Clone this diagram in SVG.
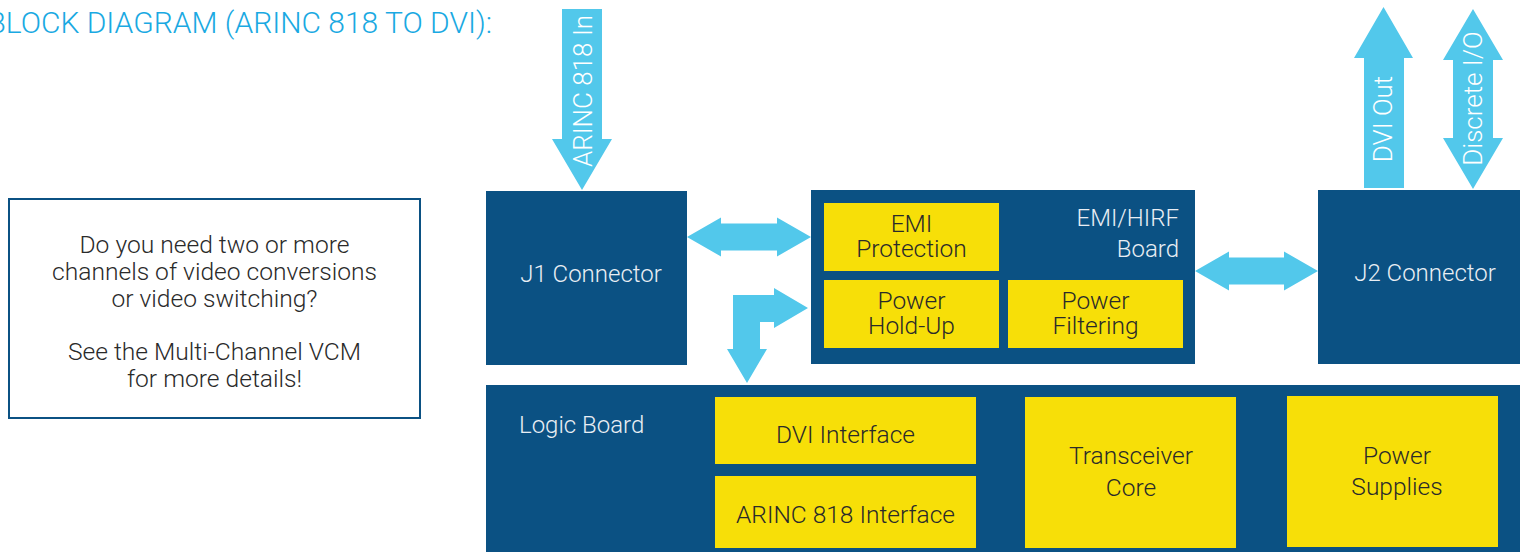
<svg xmlns="http://www.w3.org/2000/svg" width="1523" height="552" viewBox="0 0 1523 552">
<style>
  text { font-family: Roboto, "Liberation Sans", sans-serif; font-weight: 300; }
  .blue { fill: #0b5183; }
  .yel { fill: #f7df08; }
  .arr { fill: #52c8eb; }
  .tb { fill: #e9eef4; font-size: 24px; }
  .ty { fill: #2a2a2a; font-size: 24.5px; text-anchor: middle; }
  .ta { fill: #ffffff; font-size: 26px; text-anchor: middle; }
  .info { fill: #2a2a2a; font-size: 24.6px; text-anchor: middle; }
</style>
<rect width="1523" height="552" fill="#ffffff"/>
<text x="492" y="33" font-size="30" fill="#1aa9e2" text-anchor="end">BLOCK DIAGRAM (ARINC 818 TO DVI):</text>

<g id="info">
  <rect x="9" y="199" width="411" height="219" fill="#ffffff" stroke="#0b5183" stroke-width="2"/>
  <text class="info" x="214.5" y="253">Do you need two or more</text>
  <text class="info" x="214.5" y="280">channels of video conversions</text>
  <text class="info" x="214.5" y="307">or video switching?</text>
  <text class="info" x="214.5" y="360">See the Multi-Channel VCM</text>
  <text class="info" x="214.5" y="387">for more details!</text>
</g>

<g id="j1">
  <rect class="blue" x="486" y="191" width="201" height="174"/>
  <text class="tb" x="591" y="282" text-anchor="middle">J1 Connector</text>
</g>

<g id="emi-board">
  <rect class="blue" x="811" y="190" width="384" height="174"/>
  <text class="tb" x="1179" y="226" text-anchor="end">EMI/HIRF</text>
  <text class="tb" x="1179" y="257" text-anchor="end">Board</text>
</g>
<g id="emi-protection">
  <rect class="yel" x="824" y="203" width="175" height="68"/>
  <text class="ty" x="911.5" y="231.5">EMI</text>
  <text class="ty" x="911.5" y="257">Protection</text>
</g>
<g id="power-holdup">
  <rect class="yel" x="824" y="280" width="175" height="68"/>
  <text class="ty" x="911.5" y="308.5">Power</text>
  <text class="ty" x="911.5" y="334">Hold-Up</text>
</g>
<g id="power-filtering">
  <rect class="yel" x="1008" y="280" width="175" height="68"/>
  <text class="ty" x="1095.5" y="308.5">Power</text>
  <text class="ty" x="1095.5" y="334">Filtering</text>
</g>

<g id="j2">
  <rect class="blue" x="1318" y="190" width="202" height="174"/>
  <text class="tb" x="1425" y="281" text-anchor="middle">J2 Connector</text>
</g>

<g id="logic-board">
  <rect class="blue" x="486" y="385" width="1034" height="167"/>
  <text class="tb" x="519" y="433" font-size="25.5">Logic Board</text>
</g>
<g id="dvi-interface">
  <rect class="yel" x="715" y="397" width="261" height="67"/>
  <text class="ty" x="845.5" y="443">DVI Interface</text>
</g>
<g id="arinc-interface">
  <rect class="yel" x="715" y="476" width="261" height="72"/>
  <text class="ty" x="845.5" y="523">ARINC 818 Interface</text>
</g>
<g id="transceiver-core">
  <rect class="yel" x="1025" y="397" width="211" height="151"/>
  <text class="ty" x="1131" y="464">Transceiver</text>
  <text class="ty" x="1131" y="496">Core</text>
</g>
<g id="power-supplies">
  <rect class="yel" x="1287" y="396" width="211" height="151"/>
  <text class="ty" x="1397" y="464">Power</text>
  <text class="ty" x="1397" y="495">Supplies</text>
</g>

<g id="connectors">
  <path class="arr" d="M562,9 H602 V139 H612 L582,190 L552,139 H562 Z"/>
  <path class="arr" d="M1364,188 V58 H1354 L1383.5,7 L1413,58 H1404 V188 Z"/>
  <path class="arr" d="M1473,9 L1503,60 H1493 V138 H1503 L1473,189 L1443,138 H1453 V60 H1443 Z"/>
  <path class="arr" d="M687,237 L721,217.5 V223.5 H777 V217.5 L811,237 L777,256.5 V250.5 H721 V256.5 Z"/>
  <path class="arr" d="M1195,271 L1229,251.5 V257.5 H1284 V251.5 L1318,271 L1284,290.5 V284.5 H1229 V290.5 Z"/>
  <path class="arr" d="M733,295 H774 V288 L808,308 L774,328 V322 H760 V349 H767 L747,383 L727,349 H733 Z"/>
  <text class="ta" transform="translate(592,91) rotate(-90)">ARINC 818 In</text>
  <text class="ta" transform="translate(1392,119) rotate(-90)">DVI Out</text>
  <text class="ta" transform="translate(1482,98.5) rotate(-90)">Discrete I/O</text>
</g>
</svg>
